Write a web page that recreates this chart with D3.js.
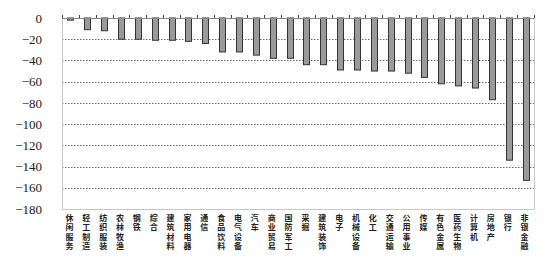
<!DOCTYPE html>
<html><head><meta charset="utf-8">
<script src="https://cdn.jsdelivr.net/npm/d3@7/dist/d3.min.js"></script>
<style>body{margin:0;background:#fff}svg{display:block}</style>
</head><body><svg id="c" width="550" height="278"></svg>
<script>
const categories = ["休闲服务","轻工制造","纺织服装","农林牧渔","钢铁","综合","建筑材料","家用电器","通信","食品饮料","电气设备","汽车","商业贸易","国防军工","采掘","建筑装饰","电子","机械设备","化工","交通运输","公用事业","传媒","有色金属","医药生物","计算机","房地产","银行","非银金融"];
const values = [-2,-11,-12,-20,-20,-21,-21,-22,-24,-32,-32,-35,-38,-38,-44,-44,-49,-49,-50,-50,-52,-56,-62,-64,-66,-77,-134,-153];
const yTicks = [0,-20,-40,-60,-80,-100,-120,-140,-160,-180];

const svg = d3.select("#c");
const L = 62, R = 534, T = 18, B = 209;
const x = d3.scaleBand().domain(categories).range([L, R]).padding(0);
const y = d3.scaleLinear().domain([0, -180]).range([T, B]);
const bw = x.bandwidth();

// gridlines
svg.append("g").selectAll("line").data(yTicks.filter(d => d !== 0 && d !== -180)).join("line")
  .attr("x1", L).attr("x2", R).attr("y1", d => Math.round(y(d)) + 0.5).attr("y2", d => Math.round(y(d)) + 0.5)
  .attr("stroke", "#444").attr("stroke-width", 0.8).attr("stroke-dasharray", "1.5,1.5");

// frame
svg.append("path").attr("d", `M${L+0.5},${T}V${B+0.5}H${R+0.5}V${T}`)
  .attr("fill", "none").attr("stroke", "#c8c8c8").attr("stroke-width", 1);

// y axis labels
const yAxis = d3.axisLeft(y).tickValues(yTicks).tickSize(0).tickPadding(20)
  .tickFormat(d => d === 0 ? "0" : "\u2212" + Math.abs(d));
const ga = svg.append("g").attr("transform", `translate(${L},0)`).call(yAxis);
ga.select(".domain").remove();
ga.selectAll("text").attr("font-family", "Liberation Serif, serif").attr("font-size", 13).attr("fill", "#222");

// bars
svg.append("g").selectAll("rect").data(values).join("rect")
  .attr("x", (d, i) => Math.round(x(categories[i]) + bw / 2 - 3) + 0.5)
  .attr("y", y(0))
  .attr("width", 6)
  .attr("height", d => y(d) - y(0))
  .attr("fill", "#9a9a9a").attr("stroke", "#333").attr("stroke-width", 1);

// top axis at zero with upward ticks
svg.append("line").attr("x1", L).attr("x2", R).attr("y1", y(0) + 0.5).attr("y2", y(0) + 0.5)
  .attr("stroke", "#888").attr("stroke-width", 1);
svg.append("g").selectAll("line").data(d3.range(categories.length + 1)).join("line")
  .attr("x1", i => Math.round(L + i * bw) + 0.5).attr("x2", i => Math.round(L + i * bw) + 0.5)
  .attr("y1", y(0)).attr("y2", y(0) - 3).attr("stroke", "#444").attr("stroke-width", 1);

// vertical category labels, one character per text element
const chars = [];
categories.forEach((c, i) => Array.from(c).forEach((ch, j) => chars.push({c, ch, j})));
svg.append("g").selectAll("text").data(chars).join("text")
  .attr("x", d => x(d.c) + bw / 2 - 1)
  .attr("y", d => 221 + d.j * 9.3)
  .attr("text-anchor", "middle")
  .attr("font-family", "Noto Sans CJK SC, sans-serif").attr("font-size", 8)
  .attr("font-weight", 700).attr("fill", "#222")
  .text(d => d.ch);
</script></body></html>
